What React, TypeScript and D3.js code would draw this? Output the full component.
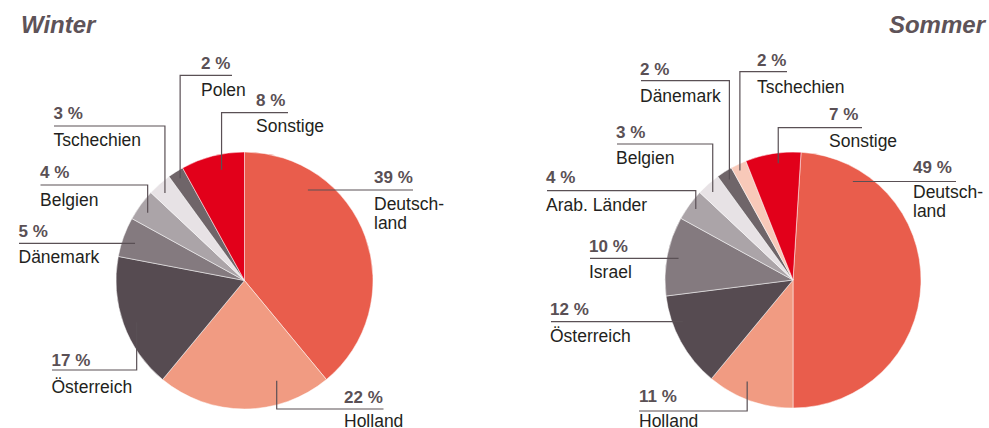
import React from "react";
import * as d3 from "d3";

// ---- data ----
const winterCategories = ["Deutschland", "Holland", "Österreich", "Dänemark", "Belgien", "Tschechien", "Polen", "Sonstige"];
const winterValues = [39, 22, 17, 5, 4, 3, 2, 8];
const sommerCategories = ["Deutschland", "Holland", "Österreich", "Israel", "Arab. Länder", "Belgien", "Dänemark", "Tschechien", "Sonstige"];
const sommerValues = [49, 11, 12, 10, 4, 3, 2, 2, 7];
const titles = ["Winter", "Sommer"];

// ---- styles ----
const winterColors = ["#e95d4c", "#f19b82", "#564b51", "#847a7f", "#aba4a8", "#e7e2e5", "#6f6569", "#e2001a"];
const sommerColors = ["#e95d4c", "#f19b82", "#564b51", "#847a7f", "#aba4a8", "#e7e2e5", "#6f6569", "#f8c9b9", "#e2001a"];
const nameLines: Record<string, string[]> = { Deutschland: ["Deutsch-", "land"] };

type LabelLayout = { x: number; pctY: number; lineY: number; nameY: number; far: number; angle: number; rf: number; horiz?: boolean };

const winterLayout: LabelLayout[] = [
  { x: 374, pctY: 182.7, lineY: 190, nameY: 210, far: 413, angle: 35, rf: 0.86, horiz: true },
  { x: 344, pctY: 402.7, lineY: 409, nameY: 427, far: 383.5, angle: 162.2, rf: 0.82 },
  { x: 51.5, pctY: 366, lineY: 370, nameY: 393, far: 52, angle: 248.8, rf: 0.9 },
  { x: 18.5, pctY: 236.7, lineY: 243.3, nameY: 262.7, far: 19, angle: 288.8, rf: 0.9, horiz: true },
  { x: 40, pctY: 177.7, lineY: 185, nameY: 205.7, far: 40.5, angle: 305, rf: 0.92 },
  { x: 53.5, pctY: 119, lineY: 126, nameY: 146, far: 54, angle: 317.7, rf: 0.92 },
  { x: 201, pctY: 69, lineY: 75.3, nameY: 96, far: 232, angle: 327.8, rf: 0.94 },
  { x: 256, pctY: 105.7, lineY: 112.7, nameY: 131.7, far: 288, angle: 348.3, rf: 0.88 },
];

const sommerLayout: LabelLayout[] = [
  { x: 913, pctY: 172.7, lineY: 181.5, nameY: 198, far: 956, angle: 31.3, rf: 0.9, horiz: true },
  { x: 639, pctY: 401.7, lineY: 411, nameY: 427, far: 639, angle: 204.3, rf: 0.87 },
  { x: 550, pctY: 315, lineY: 321.7, nameY: 341.7, far: 551, angle: 249.3, rf: 0.92, horiz: true },
  { x: 589, pctY: 251.7, lineY: 258.3, nameY: 278.3, far: 590, angle: 280.7, rf: 0.91, horiz: true },
  { x: 546, pctY: 183.3, lineY: 190.7, nameY: 210.7, far: 547, angle: 306.1, rf: 0.94 },
  { x: 616, pctY: 137.7, lineY: 144, nameY: 164.3, far: 617, angle: 317.6, rf: 0.93 },
  { x: 640, pctY: 75, lineY: 80.7, nameY: 101.7, far: 641, angle: 327.7, rf: 0.93 },
  { x: 757, pctY: 66, lineY: 71.7, nameY: 92.7, far: 787, angle: 334.1, rf: 0.95 },
  { x: 829, pctY: 120, lineY: 127.7, nameY: 146.7, far: 862, angle: 352.8, rf: 0.92 },
];

const FONT = "'Liberation Sans', Arial, sans-serif";
const PCT_COLOR = "#5a5055";
const NAME_COLOR = "#231f20";
const LINE_COLOR = "#5a5055";

type PieProps = {
  categories: string[];
  values: number[];
  colors: string[];
  layout: LabelLayout[];
  cx: number;
  cy: number;
  r: number;
  start: number; // fraction of full turn
};

function Pie({ categories, values, colors, layout, cx, cy, r, start }: PieProps) {
  const a0 = start * 2 * Math.PI;
  const pie = d3.pie<number>().sort(null).startAngle(a0).endAngle(a0 + 2 * Math.PI);
  const arcs = pie(values);
  const arc = d3.arc<d3.PieArcDatum<number>>().innerRadius(0).outerRadius(r);
  return (
    <g>
      <g transform={`translate(${cx},${cy})`}>
        {arcs.map((a, i) => (
          <path key={i} d={arc(a) || ""} fill={colors[i]} stroke="#ffffff" strokeWidth={0.5} />
        ))}
      </g>
      {layout.map((l, i) => {
        const ang = (l.angle * Math.PI) / 180;
        const ax = cx + l.rf * r * Math.sin(ang);
        const ay = l.horiz ? l.lineY : cy - l.rf * r * Math.cos(ang);
        const d = `M${ax},${ay}V${l.lineY}H${l.far}`;
        const lines = nameLines[categories[i]] || [categories[i]];
        return (
          <g key={i}>
            <path d={d} fill="none" stroke={LINE_COLOR} strokeWidth={1.2} />
            <text x={l.x} y={l.pctY} fontFamily={FONT} fontWeight="bold" fontSize={17} fill={PCT_COLOR}>
              {`${values[i]} %`}
            </text>
            {lines.map((t, j) => (
              <text key={j} x={l.x} y={l.nameY + j * 18.5} fontFamily={FONT} fontSize={17.5} fill={NAME_COLOR}>
                {t}
              </text>
            ))}
          </g>
        );
      })}
    </g>
  );
}

export default function App() {
  return (
    <svg
      width={989}
      height={428}
      viewBox="0 0 989 428"
      style={{ position: "absolute", left: 0, top: 0, background: "#ffffff" }}
    >
      <rect x={0} y={0} width={989} height={428} fill="#ffffff" />
      <text x={21} y={32.7} fontFamily={FONT} fontWeight="bold" fontStyle="italic" fontSize={24} fill="#5e5358">
        {titles[0]}
      </text>
      <text x={985} y={33} textAnchor="end" fontFamily={FONT} fontWeight="bold" fontStyle="italic" fontSize={24} fill="#5e5358">
        {titles[1]}
      </text>
      <Pie categories={winterCategories} values={winterValues} colors={winterColors} layout={winterLayout} cx={244.5} cy={280.5} r={128.5} start={0} />
      <Pie categories={sommerCategories} values={sommerValues} colors={sommerColors} layout={sommerLayout} cx={793} cy={280} r={128} start={0.01} />
    </svg>
  );
}
